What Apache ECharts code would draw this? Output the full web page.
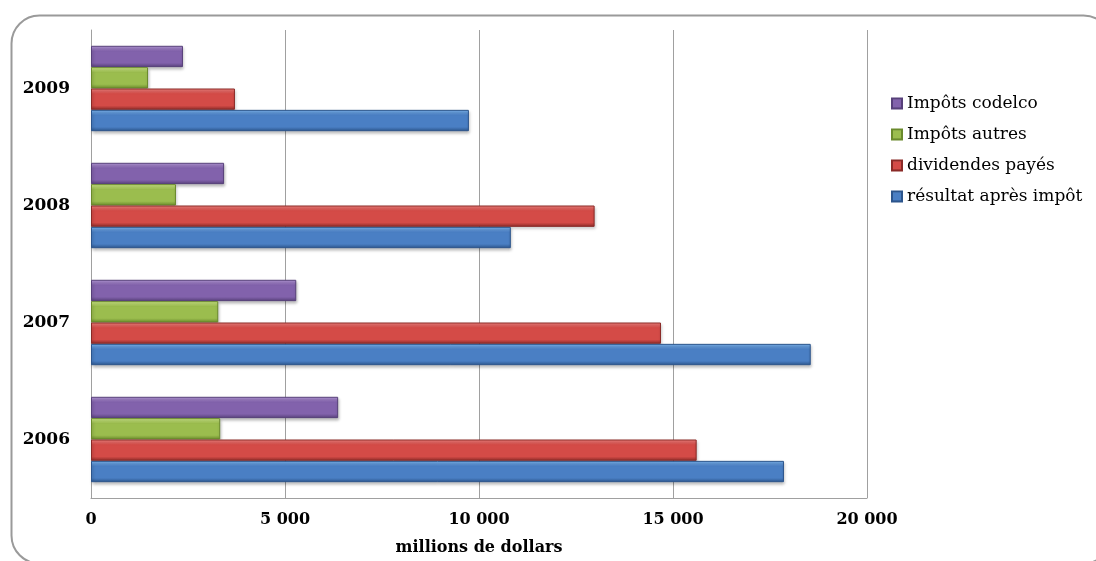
<!DOCTYPE html>
<html><head><meta charset="utf-8">
<script src="https://cdn.jsdelivr.net/npm/echarts@6/dist/echarts.min.js"></script>
<style>html,body{margin:0;padding:0;background:#fff}#c{width:1096px;height:561px}</style>
</head><body><div id="c"></div>
<script>
const categories = ['2006', '2007', '2008', '2009'];
const resultat = [17860, 18550, 10820, 9740];
const dividendes = [15610, 14690, 12980, 3710];
const impotsAutres = [3330, 3280, 2190, 1470];
const impotsCodelco = [6370, 5290, 3430, 2370];
const xTicks = [0, 5000, 10000, 15000, 20000];

function grad(top, mid, bot) {
  return new echarts.graphic.LinearGradient(0, 0, 0, 1, [
    {offset: 0, color: top}, {offset: 0.25, color: mid}, {offset: 0.8, color: mid}, {offset: 1, color: bot}
  ]);
}
const chart = echarts.init(document.getElementById('c'));
function fmt(v){ return v === 0 ? '0' : String(v).replace(/\B(?=(\d{3})+(?!\d))/g, ' '); }
// top-to-bottom order within each year
const names = ['Impôts codelco', 'Impôts autres', 'dividendes payés', 'résultat après impôt'];
const datas = [impotsCodelco, impotsAutres, dividendes, resultat];
const cols = [
  ['#B79ADB', '#8262AC', '#57407A'],
  ['#D2EE8A', '#9BBD4E', '#6A8A2C'],
  ['#F58380', '#D44B47', '#8A2A27'],
  ['#7DB7F2', '#4A7FC4', '#2C558C']
];
const serif = 'DejaVu Serif';
chart.setOption({
  animation: false,
  graphic: [{
    type: 'rect', left: 9, top: 13, shape: {width: 1100, height: 548, r: 28},
    style: {fill: 'none', stroke: '#9a9a9a', lineWidth: 2}, z: -10
  }],
  grid: {left: 91, top: 30, width: 776, height: 470, containLabel: false},
  legend: {
    orient: 'vertical', left: 886, top: 90, itemWidth: 10, itemHeight: 10, itemGap: 14,
    icon: 'rect',
    data: names,
    textStyle: {fontFamily: serif, fontSize: 17, color: '#000'}
  },
  xAxis: {
    type: 'value', min: 0, max: 20000, interval: 5000,
    name: 'millions de dollars', nameLocation: 'middle', nameGap: 42,
    nameTextStyle: {fontFamily: serif, fontWeight: 'bold', fontSize: 16, color: '#000'},
    axisLine: {show: true, lineStyle: {color: '#a0a0a0'}},
    axisTick: {show: false},
    splitLine: {show: true, lineStyle: {color: '#a0a0a0', width: 1}},
    axisLabel: {formatter: fmt, margin: 14, fontFamily: serif, fontWeight: 'bold', fontSize: 16, color: '#000'}
  },
  yAxis: {
    type: 'category', data: categories,
    axisLine: {show: true, lineStyle: {color: '#a0a0a0'}},
    axisTick: {show: false},
    axisLabel: {margin: 21, fontFamily: serif, fontWeight: 'bold', fontSize: 17, color: '#000'}
  },
  series: names.map((n, i) => ({
    name: n, type: 'bar', data: datas[i],
    barGap: '0%', barCategoryGap: '27%',
    itemStyle: {
      color: grad(cols[i][0], cols[i][1], cols[i][2]),
      borderColor: cols[i][2], borderWidth: 1,
      shadowColor: 'rgba(0,0,0,0.25)', shadowBlur: 3, shadowOffsetX: 1, shadowOffsetY: 2
    }
  }))
});
</script></body></html>
